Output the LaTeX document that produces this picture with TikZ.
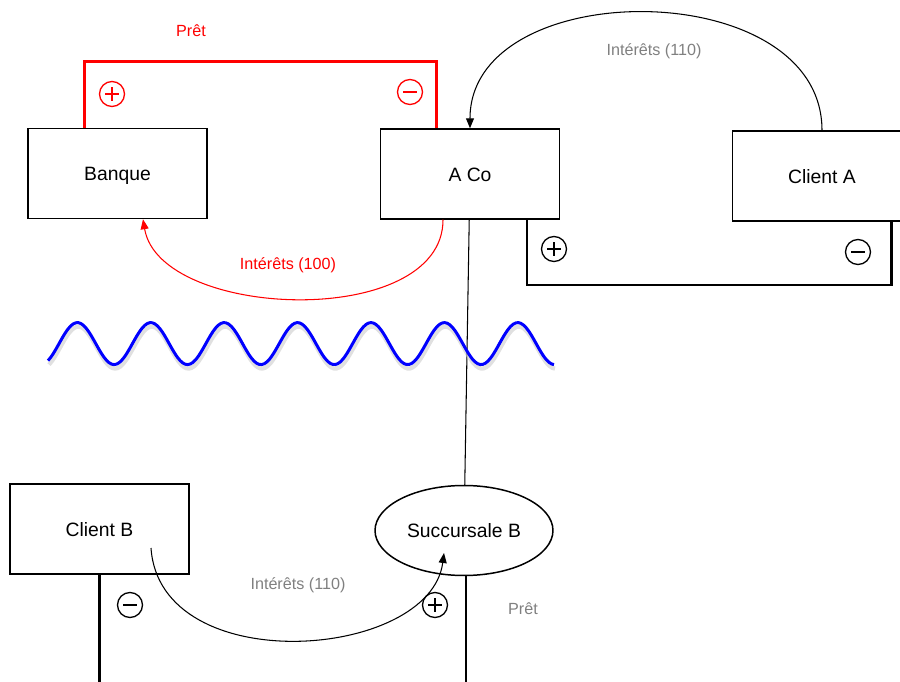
\documentclass[tikz,border=0pt]{standalone}
\usepackage{fontspec}
\setmainfont{Liberation Sans}
\usetikzlibrary{arrows.meta,shapes.geometric,positioning}

\tikzset{
  box/.style={draw,line width=0.85pt,minimum width=3.58cm,minimum height=1.8cm,
    inner sep=0pt,text height=8pt,text depth=0pt,font=\fontsize{11}{13}\selectfont},
  branch/.style={box,ellipse,minimum width=3.56cm},
  lbl/.style={font=\fontsize{9.2}{11}\selectfont},
  signmark/.style={circle,draw,line width=0.75pt,minimum size=0.5cm,inner sep=0pt},
  possign/.style={signmark,path picture={
    \draw[line width=0.75pt] ([xshift=-0.14cm]path picture bounding box.center) -- ++(0.28cm,0cm);
    \draw[line width=0.75pt] ([yshift=-0.14cm]path picture bounding box.center) -- ++(0cm,0.28cm);}},
  negsign/.style={signmark,path picture={
    \draw[line width=0.75pt] ([xshift=-0.14cm]path picture bounding box.center) -- ++(0.28cm,0cm);}},
  flow/.style={line width=0.6pt,-{Triangle[length=0.2cm,width=0.16cm]}},
  rail/.style={line width=1.7pt},
}

\begin{document}
\begin{tikzpicture}[x=0.02cm,y=-0.02cm]
  \useasboundingbox (0,0) rectangle (900,682);

  \node[box] (banque) at (117.5,173.5) {Banque};
  \node[box] (aco) at (470,174) {A Co};
  \node[box] (clientA) at (822,176) {Client A};
  \node[box] (clientB) at (99.5,529) {Client B};
  \node[branch] (succB) at (464,530.5) {Succursale B};

  \draw[rail,red] ([xshift=1.14cm]banque.north west) -- ++(0,-66) -| ([xshift=1.14cm]aco.north west);
  \draw[rail] (527,219) -- (527,285) -- (891,285) -- (891,221);
  \draw[rail] (clientB.south) |- (466,683) -- (466,576);

  \node[possign,red] (bankplus) at (112,94) {};
  \node[negsign,red] (acominus) at (410,92) {};
  \node[possign] (aplus) at (554,249) {};
  \node[negsign] (aminus) at (858,252) {};
  \node[negsign] (bminus) at (130,605) {};
  \node[possign] (bplus) at (435,605) {};

  \node[lbl,red] (pretTop) at (191,31) {Prêt};
  \node[lbl,gray] (intA) at (654,51) {Intérêts (110)};
  \node[lbl,red] (intBank) at (288,265) {Intérêts (100)};
  \node[lbl,gray] (intB) at (298,585) {Intérêts (110)};
  \node[lbl,gray] (pretB) at (523,609) {Prêt};

  \draw[flow] (clientA.north) .. controls (822,-26) and (470,-26) .. (aco.north);
  \draw[flow,red] ([xshift=-0.54cm]aco.south) .. controls (443,330) and (160,320) .. ([xshift=0.51cm]banque.south);
  \draw[line width=0.6pt] (aco) -- (succB);

  \coordinate (cbOut) at (151,548);
  \coordinate (sbIn) at (444,553);
  \draw[flow] (cbOut) .. controls (160,680) and (430,660) .. (sbIn);

  % wave with its shadow
  \draw[gray!40,line width=2.4pt,opacity=.6,shift={(1,4)}]
    plot[domain=48:554,samples=200,smooth] (\x,{343.6-21*sin((\x-59.05)/73.4*360)});
  \draw[blue,line width=1.7pt]
    plot[domain=48:554,samples=200,smooth] (\x,{343.6-21*sin((\x-59.05)/73.4*360)});
\end{tikzpicture}
\end{document}
